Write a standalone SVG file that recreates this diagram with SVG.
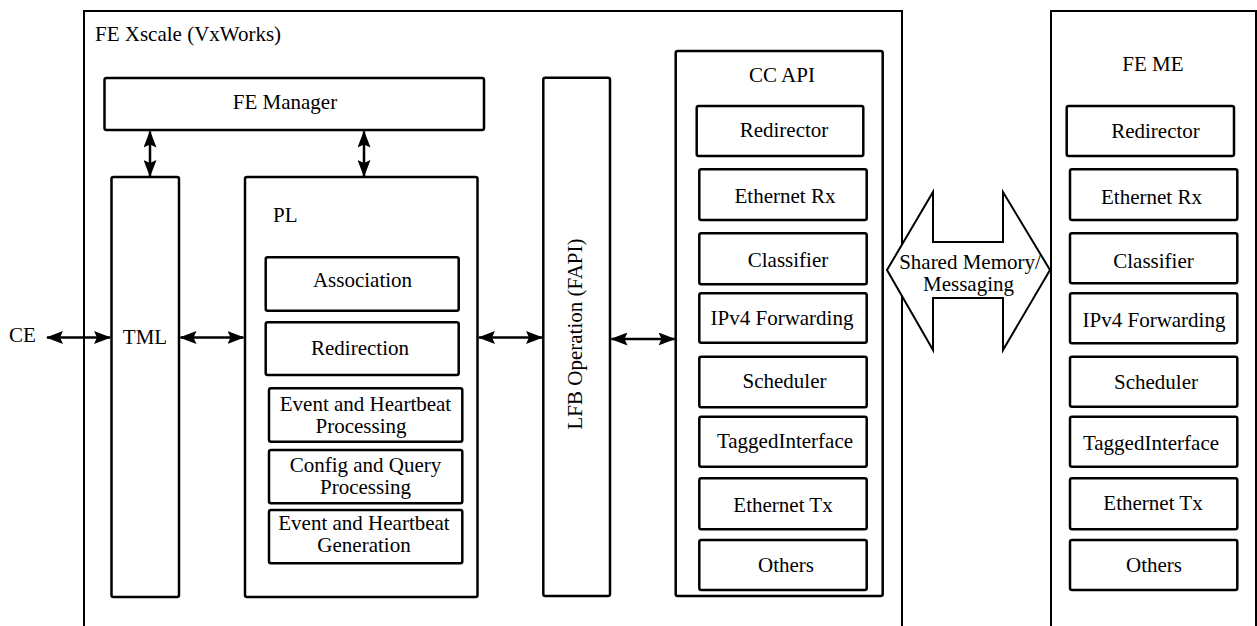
<svg xmlns="http://www.w3.org/2000/svg" width="1257" height="626" viewBox="0 0 1257 626">
  <style>
    .frame { fill: none; stroke: #000; stroke-width: 2; }
    .box { fill: #fff; stroke: #000; stroke-width: 2.5; }
    .lbl { font-family: "Liberation Serif", "Times New Roman", serif; font-size: 21px; fill: #000; }
    .mid { text-anchor: middle; }
    .link { stroke: #000; stroke-width: 2.5; fill: none; marker-start: url(#head); marker-end: url(#head); }
  </style>
  <defs>
    <marker id="head" viewBox="0 0 17 13" refX="16" refY="6.5" markerWidth="17" markerHeight="13" markerUnits="userSpaceOnUse" orient="auto-start-reverse">
      <path d="M0,0 L17,6.5 L0,13 L3,6.5 z" fill="#000"/>
    </marker>
  </defs>

  <rect width="1257" height="626" fill="#fff"/>

  <!-- Outer containers -->
  <g id="fe-xscale">
    <rect class="frame" x="84" y="11" width="818" height="640"/>
    <text class="lbl" x="95" y="40.5">FE Xscale (VxWorks)</text>
  </g>
  <g id="fe-me">
    <rect class="frame" x="1051" y="11" width="205" height="640"/>
    <text class="lbl mid" x="1153" y="71">FE ME</text>
  </g>

  <!-- FE Xscale components -->
  <g id="fe-manager">
    <rect class="box" x="104.5" y="78" width="379.5" height="52" rx="2"/>
    <text class="lbl mid" x="285" y="108.5">FE Manager</text>
  </g>
  <g id="tml">
    <rect class="box" x="111.5" y="177" width="67.5" height="420" rx="2"/>
    <text class="lbl mid" x="145" y="344">TML</text>
  </g>
  <g id="pl">
    <rect class="box" x="245" y="177" width="232.5" height="420" rx="2"/>
    <text class="lbl" x="273" y="221.7">PL</text>
    <rect class="box" x="265.7" y="257.3" width="193" height="53.4" rx="2"/>
    <text class="lbl mid" x="362.5" y="287.3">Association</text>
    <rect class="box" x="265.7" y="322.3" width="193" height="52.7" rx="2"/>
    <text class="lbl mid" x="360" y="355">Redirection</text>
    <rect class="box" x="269" y="388.3" width="193.3" height="53.4" rx="2"/>
    <text class="lbl mid" x="365.5" y="411">Event and Heartbeat</text>
    <text class="lbl mid" x="361" y="433">Processing</text>
    <rect class="box" x="269" y="450" width="193.3" height="53.3" rx="2"/>
    <text class="lbl mid" x="365.5" y="471.5">Config and Query</text>
    <text class="lbl mid" x="365.5" y="493.5">Processing</text>
    <rect class="box" x="269" y="510" width="193.3" height="53.3" rx="2"/>
    <text class="lbl mid" x="364" y="530">Event and Heartbeat</text>
    <text class="lbl mid" x="364" y="552">Generation</text>
  </g>
  <g id="lfb-operation">
    <rect class="box" x="543.3" y="77.7" width="66.7" height="518.3" rx="2"/>
    <text class="lbl mid" transform="translate(582 334) rotate(-90)">LFB Operation (FAPI)</text>
  </g>
  <g id="cc-api">
    <rect class="box" x="675.7" y="51" width="207" height="545" rx="2"/>
    <text class="lbl mid" x="782" y="81.7">CC API</text>
    <rect class="box" x="696.7" y="106" width="166.6" height="50" rx="2"/>
    <text class="lbl mid" x="784" y="136.7">Redirector</text>
    <rect class="box" x="699.3" y="169.3" width="167.4" height="50.7" rx="2"/>
    <text class="lbl mid" x="785" y="203.3">Ethernet Rx</text>
    <rect class="box" x="699.3" y="233.3" width="167.4" height="51" rx="2"/>
    <text class="lbl mid" x="788" y="266.7">Classifier</text>
    <rect class="box" x="699.3" y="293.3" width="167.4" height="49.4" rx="2"/>
    <text class="lbl mid" x="782" y="325">IPv4 Forwarding</text>
    <rect class="box" x="699.3" y="356.7" width="167.4" height="50.6" rx="2"/>
    <text class="lbl mid" x="784.5" y="388">Scheduler</text>
    <rect class="box" x="699.3" y="416.7" width="167.4" height="50" rx="2"/>
    <text class="lbl mid" x="785" y="448">TaggedInterface</text>
    <rect class="box" x="699.3" y="478.3" width="167.4" height="51" rx="2"/>
    <text class="lbl mid" x="783" y="511.7">Ethernet Tx</text>
    <rect class="box" x="699.3" y="540" width="167.4" height="50" rx="2"/>
    <text class="lbl mid" x="786" y="571.7">Others</text>
  </g>

  <!-- FE ME components -->
  <g id="fe-me-blocks">
    <rect class="box" x="1066.7" y="106" width="167.3" height="50" rx="2"/>
    <text class="lbl mid" x="1155.5" y="138">Redirector</text>
    <rect class="box" x="1070" y="169.3" width="167.3" height="50.7" rx="2"/>
    <text class="lbl mid" x="1151.5" y="204">Ethernet Rx</text>
    <rect class="box" x="1070" y="233.3" width="167.3" height="50" rx="2"/>
    <text class="lbl mid" x="1153.5" y="267.7">Classifier</text>
    <rect class="box" x="1070" y="293.3" width="167.3" height="50" rx="2"/>
    <text class="lbl mid" x="1154" y="327">IPv4 Forwarding</text>
    <rect class="box" x="1070" y="356.7" width="167.3" height="50" rx="2"/>
    <text class="lbl mid" x="1156" y="389.3">Scheduler</text>
    <rect class="box" x="1070" y="416.7" width="167.3" height="50" rx="2"/>
    <text class="lbl mid" x="1151" y="450">TaggedInterface</text>
    <rect class="box" x="1070" y="478.3" width="167.3" height="51" rx="2"/>
    <text class="lbl mid" x="1153" y="510">Ethernet Tx</text>
    <rect class="box" x="1070" y="540" width="167.3" height="50" rx="2"/>
    <text class="lbl mid" x="1154" y="571.7">Others</text>
  </g>

  <!-- External control element -->
  <g id="ce">
    <text class="lbl" x="9" y="341.7">CE</text>
  </g>

  <!-- Shared memory / messaging channel -->
  <g id="shared-memory">
    <polygon points="887,270 933,192 933,242 1003,242 1003,192 1050,270 1003,350 1003,298 933,298 933,350" fill="#fff" stroke="#000" stroke-width="2"/>
    <text class="lbl mid" x="970" y="268.5">Shared Memory/</text>
    <text class="lbl mid" x="968.5" y="291">Messaging</text>
  </g>

  <!-- Connectors -->
  <g id="connectors">
    <line class="link" x1="150" y1="131.5" x2="150" y2="176"/>
    <line class="link" x1="364" y1="131.5" x2="364" y2="176"/>
    <line class="link" x1="47" y1="337.5" x2="110" y2="337.5"/>
    <line class="link" x1="180.5" y1="337.5" x2="243.5" y2="337.5"/>
    <line class="link" x1="479" y1="337.5" x2="542" y2="337.5"/>
    <line class="link" x1="611.5" y1="339" x2="674.5" y2="339"/>
  </g>
</svg>
